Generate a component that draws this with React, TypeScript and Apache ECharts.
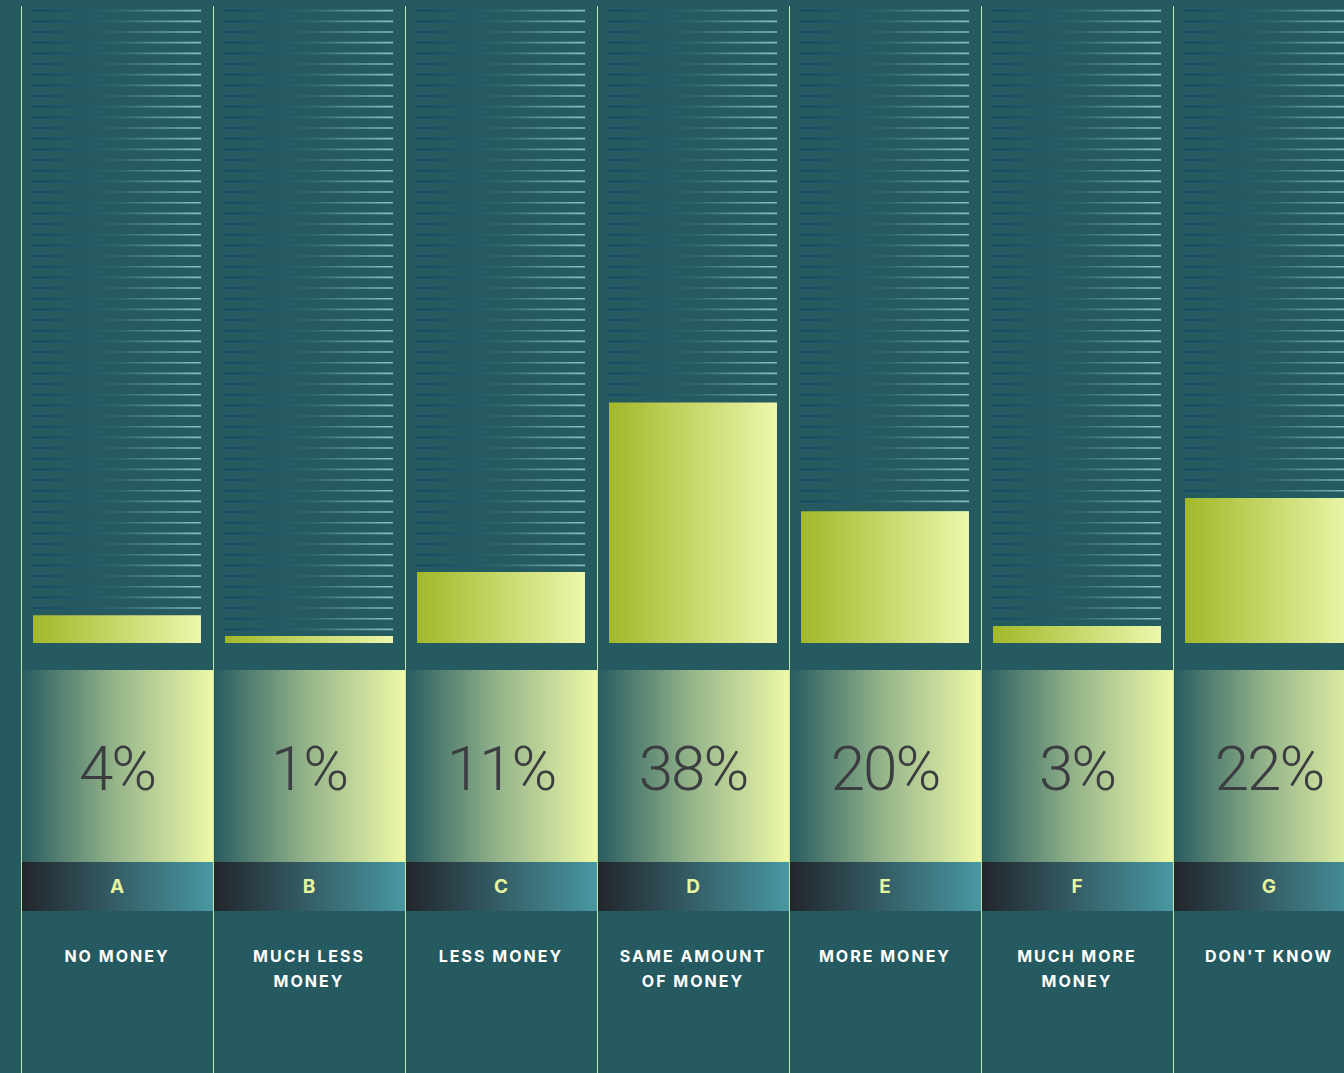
import React, { useEffect, useRef } from "react";
import * as echarts from "echarts";

const categories = ["A", "B", "C", "D", "E", "F", "G"];
const answerLabels = [
  "NO MONEY",
  "MUCH LESS\nMONEY",
  "LESS MONEY",
  "SAME AMOUNT\nOF MONEY",
  "MORE MONEY",
  "MUCH MORE\nMONEY",
  "DON'T KNOW",
];
const shareValues = [4.4, 1.1, 11.2, 38.0, 20.8, 2.7, 22.9];
const shareLabels = ["4%", "1%", "11%", "38%", "20%", "3%", "22%"];
const SCALE_MAX = 100;

const BG = "#255a60";
const COL_W = 192;
const LEFT = 21;

export default function App() {
  const ref = useRef<HTMLDivElement>(null);

  useEffect(() => {
    document.body.style.margin = "0";
    const chart = echarts.init(ref.current!, null, { renderer: "svg" });

    const stripeFill = () =>
      new echarts.graphic.LinearGradient(0, 0, 1, 0, [
        { offset: 0, color: "#0f4666" },
        { offset: 0.5, color: "#2e6672" },
        { offset: 1, color: "#86c3cd" },
      ]);

    const renderItem = (params: any, api: any) => {
      const i = api.value(0);
      const top = api.coord([i, SCALE_MAX]);
      const bottom = api.coord([i, 0]);
      const bandW = api.size([1, 0])[0];
      const cx = top[0];
      const left = cx - bandW / 2;
      const barW = bandW * 0.875;
      const children: any[] = [];
      const step = 10.667;
      for (let y = top[1] + 0.67; y < bottom[1]; y += step) {
        children.push({
          type: "rect",
          shape: { x: cx - barW / 2, y: y - 0.8, width: barW, height: 1.6 },
          style: { fill: stripeFill() },
        });
      }
      const boxTop = bottom[1] + 27;
      const boxH = bandW;
      children.push({
        type: "rect",
        shape: { x: left, y: boxTop, width: bandW, height: boxH },
        style: {
          fill: new echarts.graphic.LinearGradient(0, 0, 1, 0, [
            { offset: 0, color: "#285b60" },
            { offset: 0.5, color: "#97b68b" },
            { offset: 1, color: "#eef9a8" },
          ]),
        },
      });
      children.push({
        type: "text",
        style: {
          text: shareLabels[i],
          x: cx,
          y: boxTop + boxH / 2 + 2,
          align: "center",
          verticalAlign: "middle",
          fontSize: 62,
          fontWeight: 300,
          fontFamily: "Roboto",
          fill: "#3b3d40",
        },
      });
      const stripTop = boxTop + boxH;
      const stripH = 49;
      children.push({
        type: "rect",
        shape: { x: left, y: stripTop, width: bandW, height: stripH },
        style: {
          fill: new echarts.graphic.LinearGradient(0, 0, 1, 0, [
            { offset: 0, color: "#22252b" },
            { offset: 1, color: "#4898a3" },
          ]),
        },
      });
      children.push({
        type: "text",
        style: {
          text: categories[i],
          x: cx,
          y: stripTop + stripH / 2,
          align: "center",
          verticalAlign: "middle",
          fontSize: 19,
          fontWeight: "bold",
          fontFamily: "Inter",
          fill: "#e6f5a2",
        },
      });
      children.push({
        type: "text",
        style: {
          text: answerLabels[i],
          x: cx,
          y: stripTop + stripH + 32.5,
          align: "center",
          verticalAlign: "top",
          lineHeight: 25,
          fontSize: 16,
          fontWeight: "bold",
          fontFamily: "Inter",
          fill: "#ffffff",
        },
      });
      children.push({
        type: "line",
        shape: { x1: left + 0.5, y1: top[1] - 4, x2: left + 0.5, y2: api.getHeight() },
        style: { stroke: "#c3e4a4", lineWidth: 1 },
      });
      return { type: "group", children };
    };

    chart.setOption({
      animation: false,
      backgroundColor: BG,
      grid: { left: LEFT, top: 10, width: COL_W * categories.length, height: 633 },
      xAxis: {
        type: "category",
        data: categories,
        show: false,
      },
      yAxis: { type: "value", min: 0, max: SCALE_MAX, show: false },
      series: [
        {
          type: "custom",
          clip: false,
          z: 1,
          renderItem,
          encode: { x: 0, y: 1 },
          data: categories.map((_, i) => [i, SCALE_MAX]),
        },
        {
          type: "bar",
          z: 3,
          barWidth: "87.5%",
          data: shareValues,
          itemStyle: {
            color: new echarts.graphic.LinearGradient(0, 0, 1, 0, [
              { offset: 0, color: "#a2b829" },
              { offset: 1, color: "#ecf7ab" },
            ]),
          },
        },
      ],
    });

    return () => chart.dispose();
  }, []);

  return (
    <div
      style={{
        position: "absolute",
        left: 0,
        top: 0,
        width: 1344,
        height: 1073,
        overflow: "hidden",
        background: BG,
      }}
    >
      <style>{`
        text[style*="16px"], text[font-size="16"], text[font-size="16px"] { letter-spacing: 2px; }
        text[style*="62px"], text[font-size="62"], text[font-size="62px"] { letter-spacing: -2px; }
      `}</style>
      <div
        ref={ref}
        style={{ width: LEFT + COL_W * categories.length, height: 1073 }}
      />
    </div>
  );
}
